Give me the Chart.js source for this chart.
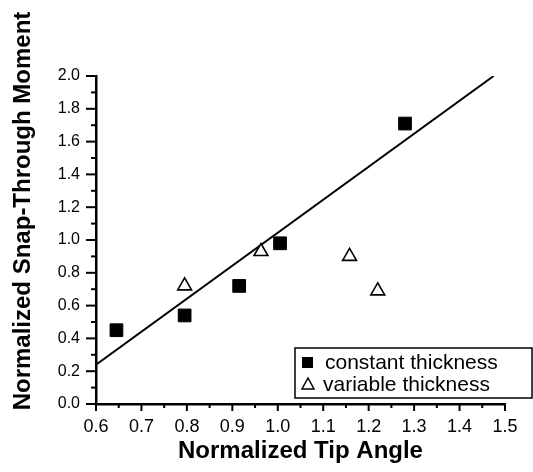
<!DOCTYPE html>
<html><head><meta charset="utf-8">
<script src="https://cdn.jsdelivr.net/npm/chart.js@4.4.1/dist/chart.umd.min.js"></script>
<style>html,body{margin:0;padding:0;background:#fff}#wrap{width:533px;height:472px;position:relative}</style>
</head><body><div id="wrap"><canvas id="c" width="533" height="472"></canvas></div>
<script>
// ---- data ----
const constantX = [0.645, 0.795, 0.915, 1.005, 1.28];
const constantY = [0.45, 0.54, 0.72, 0.98, 1.71];
const variableX = [0.795, 0.963, 1.158, 1.22];
const variableY = [0.72, 0.93, 0.90, 0.69];
const fitX = [0.6, 1.475];
const fitY = [0.24, 2.0];
const xTickLabels = ['0.6','0.7','0.8','0.9','1.0','1.1','1.2','1.3','1.4','1.5'];
const yTickLabels = ['0.0','0.2','0.4','0.6','0.8','1.0','1.2','1.4','1.6','1.8','2.0'];
const seriesNames = ['constant thickness', 'variable thickness'];
const xTitle = 'Normalized Tip Angle';
const yTitle = 'Normalized Snap-Through Moment';

const toPts = (xs, ys) => xs.map((x, i) => ({x: x, y: ys[i]}));

function labelFor(v, start, step, labels) {
  const k = (v - start) / step;
  const idx = Math.round(k);
  if (Math.abs(k - idx) < 1e-4 && idx >= 0 && idx < labels.length) return labels[idx];
  return '';
}

const tickPlugin = {
  id: 'customTicks',
  afterDraw(chart) {
    const ctx = chart.ctx;
    const area = chart.chartArea;
    const xs = chart.scales.x, ys = chart.scales.y;
    ctx.save();
    ctx.strokeStyle = '#000';
    ctx.lineWidth = 2;
    xs.ticks.forEach(t => {
      const px = xs.getPixelForValue(t.value);
      const major = labelFor(t.value, 0.6, 0.1, xTickLabels) !== '';
      ctx.beginPath();
      ctx.moveTo(px, area.bottom);
      ctx.lineTo(px, area.bottom + (major ? 7 : 4));
      ctx.stroke();
    });
    ys.ticks.forEach(t => {
      const py = ys.getPixelForValue(t.value);
      const major = labelFor(t.value, 0, 0.2, yTickLabels) !== '';
      ctx.beginPath();
      ctx.moveTo(area.left, py);
      ctx.lineTo(area.left - (major ? 10 : 5), py);
      ctx.stroke();
    });
    // y title
    ctx.fillStyle = '#000';
    ctx.font = 'bold 24px "Liberation Sans", Arial, sans-serif';
    ctx.textAlign = 'center';
    ctx.textBaseline = 'middle';
    ctx.translate(23, 211);
    ctx.rotate(-Math.PI / 2);
    ctx.fillText(yTitle, 0, 0);
    ctx.restore();

    // legend box
    ctx.save();
    const bx = 295, by = 348, bw = 237, bh = 50;
    ctx.fillStyle = '#fff';
    ctx.fillRect(bx, by, bw, bh);
    ctx.strokeStyle = '#000';
    ctx.lineWidth = 1.5;
    ctx.strokeRect(bx, by, bw, bh);
    ctx.fillStyle = '#000';
    ctx.fillRect(302, 357, 11, 11);
    ctx.beginPath();
    ctx.moveTo(308, 378);
    ctx.lineTo(314, 389);
    ctx.lineTo(302, 389);
    ctx.closePath();
    ctx.lineWidth = 1.5;
    ctx.stroke();
    ctx.font = '21px "Liberation Sans", Arial, sans-serif';
    ctx.textAlign = 'left';
    ctx.textBaseline = 'middle';
    ctx.fillText(seriesNames[0], 325, 363);
    ctx.fillText(seriesNames[1], 323, 385);
    ctx.restore();
  }
};

new Chart(document.getElementById('c'), {
  data: {
    datasets: [
      {
        type: 'scatter',
        label: seriesNames[0],
        data: toPts(constantX, constantY),
        pointStyle: 'rect',
        pointRadius: 9,
        backgroundColor: '#000',
        borderColor: '#000',
        borderWidth: 1,
        order: 0
      },
      {
        type: 'scatter',
        label: seriesNames[1],
        data: toPts(variableX, variableY),
        pointStyle: 'triangle',
        pointRadius: 8,
        backgroundColor: '#fff',
        borderColor: '#000',
        borderWidth: 1.6,
        order: 1
      },
      {
        type: 'line',
        label: 'fit',
        data: toPts(fitX, fitY),
        pointRadius: 0,
        borderColor: '#000',
        borderWidth: 2,
        fill: false,
        order: 2
      }
    ]
  },
  options: {
    responsive: false,
    devicePixelRatio: 1,
    animation: false,
    layout: {padding: {top: 76, right: 28, left: 0, bottom: 0}},
    plugins: {legend: {display: false}, tooltip: {enabled: false}},
    scales: {
      x: {
        type: 'linear',
        min: 0.6, max: 1.5,
        afterFit: s => { s.height = 68; },
        grid: {display: true, drawOnChartArea: false, color: 'rgba(0,0,0,0)', tickLength: 7},
        border: {display: true, color: '#000', width: 2.5},
        ticks: {
          stepSize: 0.05,
          autoSkip: false,
          maxRotation: 0,
          padding: 5,
          color: '#000',
          font: {family: '"Liberation Sans Narrow", "Liberation Sans", Arial, sans-serif', size: 18},
          callback: v => labelFor(v, 0.6, 0.1, xTickLabels)
        },
        title: {
          display: true, text: xTitle, color: '#000',
          font: {family: '"Liberation Sans", Arial, sans-serif', size: 24, weight: 'bold'},
          padding: {top: 0, bottom: 6}
        }
      },
      y: {
        type: 'linear',
        min: 0, max: 2.0,
        afterFit: s => { s.width = 96; },
        grid: {display: true, drawOnChartArea: false, color: 'rgba(0,0,0,0)', tickLength: 10},
        border: {display: true, color: '#000', width: 2.5},
        ticks: {
          stepSize: 0.1,
          autoSkip: false,
          padding: 6,
          color: '#000',
          font: {family: '"Liberation Sans", Arial, sans-serif', size: 16},
          callback: v => labelFor(v, 0, 0.2, yTickLabels)
        }
      }
    }
  },
  plugins: [tickPlugin]
});
</script>
</body></html>
